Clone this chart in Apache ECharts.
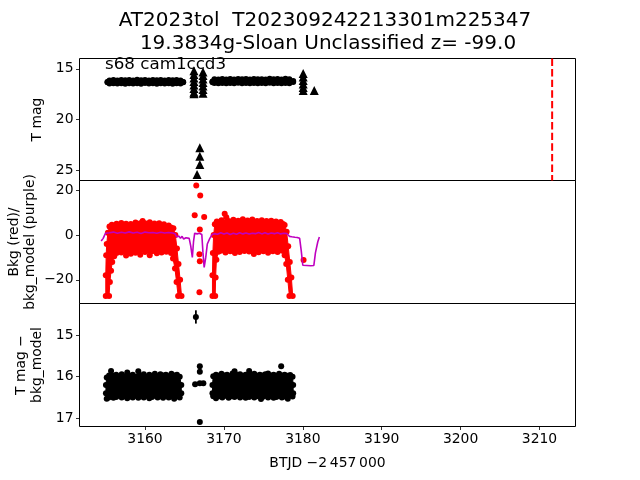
<!DOCTYPE html>
<html>
<head>
<meta charset="utf-8">
<script src="https://cdn.jsdelivr.net/npm/echarts@6/dist/echarts.min.js"></script>
<style>html,body{margin:0;padding:0;background:#fff;}#c{width:640px;height:480px;}</style>
</head>
<body>
<div id="c"></div>
<script>
// ---------- data ----------
const titleLine1 = 'AT2023tol  T202309242213301m225347';
const titleLine2 = '19.3834g-Sloan Unclassified z= -99.0';
const sectorText = 's68 cam1ccd3';

const xTicks = [3160, 3170, 3180, 3190, 3200, 3210];
const p1Ticks = [15, 20, 25];
const p2Ticks = [-20, 0, 20];
const p3Ticks = [15, 16, 17];

// Panel 1: T mag band (envelope of the dense detections)
const magLeftTop = [[3155.25,16.3],[3155.5,16.14],[3156.0,16.1],[3156.5,16.15],[3157.0,16.09],[3157.5,16.13],[3158.0,16.1],[3158.5,16.15],[3159.0,16.08],[3159.5,16.12],[3160.0,16.1],[3160.5,16.14],[3161.0,16.09],[3161.5,16.13],[3162.0,16.1],[3162.5,16.14],[3163.0,16.09],[3163.5,16.12],[3164.0,16.1],[3164.5,16.14],[3164.84,16.3]];
const magLeftBot = [[3164.84,16.32],[3164.5,16.45],[3164.0,16.42],[3163.5,16.46],[3163.0,16.43],[3162.5,16.45],[3162.0,16.42],[3161.5,16.46],[3161.0,16.43],[3160.5,16.45],[3160.0,16.41],[3159.5,16.46],[3159.0,16.43],[3158.5,16.45],[3158.0,16.42],[3157.5,16.46],[3157.0,16.43],[3156.5,16.45],[3156.0,16.42],[3155.5,16.44],[3155.25,16.32]];
const magRightTop = [[3168.55,16.25],[3168.8,16.02],[3169.3,16.06],[3169.8,16.0],[3170.3,16.05],[3170.8,16.01],[3171.3,16.06],[3171.8,16.0],[3172.3,16.04],[3172.8,16.01],[3173.3,16.05],[3173.8,16.0],[3174.3,16.04],[3174.8,16.02],[3175.3,16.05],[3175.8,15.98],[3176.3,16.04],[3176.8,16.01],[3177.3,16.05],[3177.8,15.99],[3178.3,16.04],[3178.78,16.2]];
const magRightBot = [[3178.78,16.3],[3178.3,16.42],[3177.8,16.39],[3177.3,16.43],[3176.8,16.4],[3176.3,16.42],[3175.8,16.38],[3175.3,16.43],[3174.8,16.4],[3174.3,16.42],[3173.8,16.39],[3173.3,16.43],[3172.8,16.4],[3172.3,16.42],[3171.8,16.38],[3171.3,16.42],[3170.8,16.4],[3170.3,16.43],[3169.8,16.39],[3169.3,16.42],[3168.8,16.4],[3168.55,16.32]];
// Panel 1: upper-limit triangles
const limX = [3166.2,3166.2,3166.2,3166.2,3166.2,3166.2,3166.2,3166.2, 3167.35,3167.35,3167.35,3167.35,3167.35,3167.35,3167.35, 3180.05,3180.05,3180.05,3180.05,3180.05,3180.05, 3181.45, 3166.95,3166.95,3166.95,3166.6];
const limY = [15.2,15.55,15.9,16.25,16.6,16.95,17.3,17.45, 15.3,15.65,16.0,16.35,16.7,17.05,17.4, 15.45,15.8,16.15,16.5,16.85,17.15, 17.15, 22.8,23.62,24.44,25.42];
// Panel 1: red dashed marker
const eventX = 3211.6;

// Panel 2: background (red) envelope of dense points
const bkgLeftTop = [[3155.03,-27.2],[3155.03,-18],[3155.08,-9],[3155.15,-4],[3155.3,1],[3155.5,3.8],[3155.8,4.6],[3156.1,3.9],[3156.4,5.0],[3156.7,4.1],[3157.0,5.4],[3157.3,4.3],[3157.6,5.0],[3157.9,3.8],[3158.2,4.9],[3158.5,4.2],[3158.8,5.6],[3159.1,4.6],[3159.4,5.3],[3159.7,6.3],[3160.0,5.2],[3160.3,4.4],[3160.6,5.7],[3160.9,4.5],[3161.2,5.1],[3161.5,4.0],[3161.8,5.2],[3162.1,4.3],[3162.4,4.8],[3162.7,3.7],[3163.0,4.2],[3163.3,3.4],[3163.6,3.0],[3163.85,0],[3164.05,-6],[3164.25,-13],[3164.45,-20],[3164.63,-27.2]];
const bkgLeftBot = [[3164.2,-27.2],[3164.0,-21],[3163.8,-15],[3163.55,-10.5],[3163.3,-8.0],[3163.0,-6.3],[3162.7,-7.5],[3162.4,-6.0],[3162.1,-7.8],[3161.8,-6.6],[3161.5,-8.2],[3161.2,-6.4],[3160.9,-7.3],[3160.6,-9.0],[3160.3,-6.8],[3160.0,-7.6],[3159.7,-6.2],[3159.4,-8.8],[3159.1,-7.0],[3158.8,-7.9],[3158.5,-6.5],[3158.2,-8.4],[3157.9,-6.9],[3157.6,-9.2],[3157.3,-7.1],[3157.0,-7.8],[3156.7,-6.6],[3156.4,-8.0],[3156.1,-9.5],[3155.85,-12],[3155.7,-16],[3155.55,-21],[3155.45,-27.2]];
const bkgRightTop = [[3168.55,-27.2],[3168.55,-18],[3168.6,-8],[3168.7,0],[3168.85,4.8],[3169.1,6.0],[3169.4,5.2],[3169.7,6.6],[3170.0,5.5],[3170.3,7.9],[3170.6,6.2],[3170.9,5.4],[3171.2,6.8],[3171.5,5.6],[3171.8,6.4],[3172.1,5.2],[3172.4,7.0],[3172.7,5.8],[3173.0,6.5],[3173.3,5.3],[3173.6,6.9],[3173.9,5.7],[3174.2,6.3],[3174.5,5.1],[3174.8,6.6],[3175.1,5.4],[3175.4,6.2],[3175.7,5.0],[3176.0,6.4],[3176.3,5.5],[3176.6,6.0],[3176.9,5.2],[3177.2,5.8],[3177.5,4.9],[3177.7,4.5],[3177.95,1.5],[3178.15,-5],[3178.35,-12],[3178.55,-19],[3178.72,-27.2]];
const bkgRightBot = [[3178.3,-27.2],[3178.1,-20],[3177.9,-13],[3177.7,-9],[3177.4,-7.0],[3177.1,-6.0],[3176.8,-7.6],[3176.5,-6.4],[3176.2,-7.2],[3175.9,-5.8],[3175.6,-7.9],[3175.3,-6.6],[3175.0,-7.3],[3174.7,-5.9],[3174.4,-7.7],[3174.1,-6.3],[3173.8,-8.5],[3173.5,-6.8],[3173.2,-7.4],[3172.9,-5.9],[3172.6,-7.1],[3172.3,-6.2],[3172.0,-7.6],[3171.7,-6.5],[3171.4,-8.0],[3171.1,-6.1],[3170.8,-7.3],[3170.5,-6.4],[3170.2,-7.8],[3169.9,-6.2],[3169.6,-7.0],[3169.3,-7.5],[3169.05,-11],[3168.95,-19],[3168.9,-27.2]];
const bkgOutX = [3166.5, 3167.0, 3166.3, 3167.5, 3166.95, 3166.9, 3166.95, 3166.9, 3170.1, 3180.1];
const bkgOutY = [22.1, 17.6, 8.8, 8.0, 2.4, -8.6, -11.7, -25.6, 9.5, -11.2];
// Panel 2: background model (purple)
const modelX = [3154.45,3154.7,3155.0,3155.2,3155.5,3156.0,3156.5,3157.0,3157.5,3158.0,3158.5,3159.0,3159.5,3160.0,3160.5,3161.0,3161.5,3162.0,3162.5,3163.0,3163.5,3163.8,3164.0,3164.3,3164.5,3164.7,3164.9,3165.2,3165.4,3165.6,3165.8,3166.0,3166.15,3166.3,3166.6,3166.9,3167.2,3167.35,3167.5,3167.7,3167.9,3168.2,3168.5,3168.8,3169.2,3169.6,3170.0,3170.4,3170.8,3171.2,3171.6,3172.0,3172.4,3172.8,3173.2,3173.6,3174.0,3174.4,3174.8,3175.2,3175.6,3176.0,3176.4,3176.8,3177.2,3177.6,3178.0,3178.3,3178.6,3179.0,3179.3,3179.6,3179.8,3180.0,3180.5,3181.0,3181.4,3181.6,3181.9,3182.1];
const modelY = [-2.7,-1.5,0.8,1.2,1.0,1.3,0.8,1.2,0.9,1.4,0.9,1.2,0.7,1.3,1.0,1.1,0.8,1.2,0.9,1.1,0.9,0.6,-0.8,-0.5,-1.5,-0.6,-1.8,-1.2,-2.0,-1.5,-5,-10.0,-3,0.8,0.5,0.8,0.2,-8,-14.5,-10,-4,-1.6,0.2,0.6,0.3,1.0,0.4,0.9,0.2,0.8,0.3,1.0,0.5,0.9,0.4,0.8,0.6,1.1,0.5,1.0,0.4,0.9,0.6,1.0,0.5,0.8,0.6,-0.6,-0.8,-1.0,-1.1,-1.5,-7,-13.5,-13.6,-13.7,-13.6,-8,-3,-0.9];

// Panel 3: T mag - bkg_model band envelopes
const resLeftTop = [[3155.05,16.2],[3155.15,16.02],[3155.45,15.97],[3155.7,15.86],[3156.0,15.98],[3156.35,15.95],[3156.7,16.0],[3157.05,15.94],[3157.4,15.99],[3157.75,15.9],[3158.1,15.98],[3158.45,15.95],[3158.8,16.0],[3159.15,15.87],[3159.5,15.97],[3159.85,15.94],[3160.2,16.0],[3160.55,15.95],[3160.9,15.98],[3161.25,15.93],[3161.6,15.99],[3161.95,15.94],[3162.3,15.97],[3162.65,15.95],[3163.0,15.99],[3163.35,15.93],[3163.7,15.97],[3164.05,15.95],[3164.4,16.0],[3164.6,16.2]];
const resLeftBot = [[3164.6,16.4],[3164.4,16.5],[3164.05,16.47],[3163.7,16.53],[3163.35,16.48],[3163.0,16.5],[3162.65,16.46],[3162.3,16.51],[3161.95,16.47],[3161.6,16.5],[3161.25,16.45],[3160.9,16.49],[3160.55,16.52],[3160.2,16.46],[3159.85,16.5],[3159.5,16.47],[3159.15,16.51],[3158.8,16.46],[3158.45,16.5],[3158.1,16.48],[3157.75,16.52],[3157.4,16.47],[3157.05,16.5],[3156.7,16.45],[3156.35,16.49],[3156.0,16.51],[3155.7,16.47],[3155.4,16.5],[3155.15,16.53],[3155.05,16.4]];
const resRightTop = [[3168.55,16.2],[3168.65,15.99],[3169.0,15.95],[3169.35,15.98],[3169.7,15.93],[3170.05,15.97],[3170.4,15.95],[3170.75,15.99],[3171.1,15.92],[3171.35,15.87],[3171.7,15.96],[3172.05,15.94],[3172.4,15.98],[3172.75,15.95],[3173.2,15.86],[3173.5,15.96],[3173.85,15.93],[3174.2,15.98],[3174.55,15.95],[3174.9,15.97],[3175.25,15.94],[3175.6,15.92],[3175.95,15.97],[3176.3,15.95],[3176.65,15.98],[3177.0,15.93],[3177.35,15.97],[3177.7,15.95],[3178.05,15.98],[3178.4,15.96],[3178.7,16.0],[3178.78,16.2]];
const resRightBot = [[3178.78,16.4],[3178.7,16.48],[3178.1,16.53],[3177.7,16.48],[3177.35,16.5],[3177.0,16.46],[3176.65,16.49],[3176.3,16.51],[3175.95,16.47],[3175.6,16.5],[3175.25,16.46],[3174.9,16.49],[3174.7,16.54],[3174.2,16.47],[3173.85,16.5],[3173.5,16.46],[3173.2,16.49],[3172.75,16.51],[3172.4,16.47],[3172.05,16.5],[3171.7,16.45],[3171.35,16.49],[3171.0,16.47],[3170.6,16.51],[3170.2,16.46],[3169.8,16.5],[3169.4,16.47],[3169.0,16.52],[3168.65,16.47],[3168.55,16.4]];
const resPtX = [3166.45, 3166.95, 3166.95, 3166.35, 3166.95, 3167.4, 3166.95, 3177.26];
const resPtY = [14.56, 15.75, 15.88, 16.18, 16.16, 16.16, 17.09, 15.75];
const errX = [3166.45];
const errY = [14.56];
const errE = [0.16];

// ---------- layout ----------
const X_MIN = 3151.7, X_MAX = 3214.56;
const FONT = 'DejaVu Sans';
const FS = 13.9;
const fmt = v => String(v).replace('-', '\u2212');

const chart = echarts.init(document.getElementById('c'), null, {renderer: 'canvas'});

function bandSeries(clusters, color, gi) {
  return {
    type: 'custom', xAxisIndex: gi, yAxisIndex: gi, clip: true, silent: true, z: 2,
    data: clusters.map(c => c[0]),
    renderItem: function (params, api) {
      const c = clusters[params.dataIndex];
      return {type: 'polygon', shape: {points: c.map(p => api.coord(p))},
              style: {fill: color, stroke: color, lineWidth: 1}};
    }
  };
}
function dots(points, color, gi, size, symbol, z) {
  return {type: 'scatter', xAxisIndex: gi, yAxisIndex: gi, data: points, symbol: symbol || 'circle',
          symbolSize: size, itemStyle: {color: color, opacity: 1}, silent: true, z: z || 3};
}
const zip = (a, b) => a.map((v, i) => [v, b[i]]);

const magClusters = [magLeftTop.concat(magLeftBot), magRightTop.concat(magRightBot)];
const bkgClusters = [bkgLeftTop.concat(bkgLeftBot), bkgRightTop.concat(bkgRightBot)];
const resClusters = [resLeftTop.concat(resLeftBot), resRightTop.concat(resRightBot)];

const grids = [
  {left: 79.5, top: 58.5, width: 496, height: 122},
  {left: 79.5, top: 180.5, width: 496, height: 123},
  {left: 79.5, top: 303.5, width: 496, height: 123}
].map(g => Object.assign(g, {show: true, borderColor: '#000', borderWidth: 1, backgroundColor: 'transparent',
                             containLabel: false, outerBoundsMode: 'none'}));

function xAxis(gi, bottom) {
  return {
    type: 'value', gridIndex: gi, min: X_MIN, max: X_MAX,
    axisLine: {show: false}, splitLine: {show: false},
    axisTick: {show: bottom, inside: false, length: 3.5, lineStyle: {color: '#000', width: 0.8}, customValues: xTicks},
    axisLabel: {show: bottom, customValues: xTicks, margin: 6, color: '#000', fontSize: FS, fontFamily: FONT, formatter: fmt},
    name: bottom ? 'BTJD \u22122\u2009457\u2009000' : '', nameLocation: 'middle', nameGap: 30,
    nameTextStyle: {color: '#000', fontSize: FS, fontFamily: FONT}
  };
}
function yAxis(gi, min, max, inverse, ticks, name, gap, noMove) {
  const ax = {
    type: 'value', gridIndex: gi, min: min, max: max, inverse: inverse,
    axisLine: {show: false}, splitLine: {show: false},
    axisTick: {show: true, inside: false, length: 3.5, lineStyle: {color: '#000', width: 0.8}, customValues: ticks},
    axisLabel: {show: true, customValues: ticks, margin: 6, color: '#000', fontSize: FS, fontFamily: FONT, formatter: fmt},
    name: name, nameLocation: 'middle', nameGap: gap,
    nameTextStyle: {color: '#000', fontSize: FS, fontFamily: FONT, lineHeight: 16}
  };
  if (noMove) ax.nameMoveOverlap = false;
  return ax;
}

const option = {
  animation: false,
  backgroundColor: '#fff',
  grid: grids,
  xAxis: [xAxis(0, false), xAxis(1, false), xAxis(2, true)],
  yAxis: [
    yAxis(0, 13.98, 26.02, true, p1Ticks, 'T mag', 30),
    yAxis(1, -30.58, 24.33, false, p2Ticks, 'Bkg (red)/\nbkg_model (purple)', 41, true),
    yAxis(2, 14.236, 17.2, true, p3Ticks, 'T mag \u2212\nbkg_model', 30)
  ],
  graphic: [
    {type: 'text', x: 325, y: 21, style: {text: titleLine1, fill: '#000', font: '20px "DejaVu Sans"', align: 'center', verticalAlign: 'middle'}},
    {type: 'text', x: 328, y: 44, style: {text: titleLine2, fill: '#000', font: '20px "DejaVu Sans"', align: 'center', verticalAlign: 'middle'}},
    {type: 'text', x: 105, y: 65, z: 100, style: {text: sectorText, fill: '#000', font: '16.7px "DejaVu Sans"', align: 'left', verticalAlign: 'middle'}}
  ],
  series: [
    // panel 1
    bandSeries(magClusters, '#000', 0),
    dots(magClusters[0].concat(magClusters[1]), '#000', 0, 6),
    dots(zip(limX, limY), '#000', 0, 9, 'triangle', 4),
    {type: 'line', xAxisIndex: 0, yAxisIndex: 0, data: [[eventX, 13.98], [eventX, 26.02]], showSymbol: false, silent: true,
     lineStyle: {color: '#ff0000', width: 2, type: [7.4, 3.2]}, z: 5},
    // panel 2
    bandSeries(bkgClusters, '#ff0000', 1),
    dots(bkgClusters[0].concat(bkgClusters[1]), '#ff0000', 1, 6),
    dots(zip(bkgOutX, bkgOutY), '#ff0000', 1, 6),
    {type: 'line', xAxisIndex: 1, yAxisIndex: 1, data: zip(modelX, modelY), showSymbol: false, silent: true,
     lineStyle: {color: '#bf00bf', width: 1.6}, z: 6},
    // panel 3
    bandSeries(resClusters, '#000', 2),
    dots(resClusters[0].concat(resClusters[1]), '#000', 2, 6),
    dots(zip(resPtX, resPtY), '#000', 2, 6),
    {type: 'custom', xAxisIndex: 2, yAxisIndex: 2, silent: true, z: 5,
     data: errX.map((x, i) => [x, errY[i], errE[i]]),
     renderItem: function (params, api) {
       const x = api.value(0), y = api.value(1), e = api.value(2);
       const a = api.coord([x, y - e]), b = api.coord([x, y + e]);
       return {type: 'line', shape: {x1: a[0], y1: a[1], x2: b[0], y2: b[1]}, style: {stroke: '#000', lineWidth: 1.8}};
     }}
  ]
};
chart.setOption(option);
</script>
</body>
</html>
